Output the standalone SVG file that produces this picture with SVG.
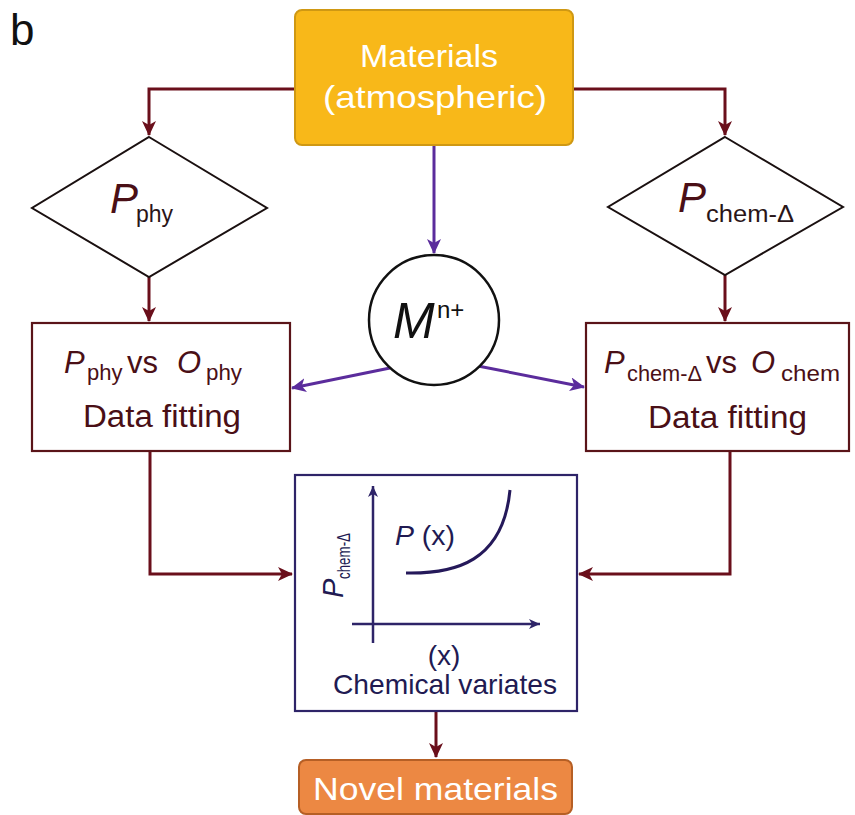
<svg xmlns="http://www.w3.org/2000/svg" width="855" height="815" viewBox="0 0 855 815">
<style>
  text { font-family: "Liberation Sans", Arial, sans-serif; }
  .mr { fill: #4a0f16; }
  .it { font-style: italic; }
  .nv { fill: #211a52; }
  .wt { fill: #ffffff; }
  .con { fill: none; stroke: #6a0f1b; stroke-width: 3; }
  .pur { fill: none; stroke: #5b2c9c; stroke-width: 3; }
  .ax { fill: none; stroke: #2e2468; stroke-width: 2.5; }
</style>
<defs>
  <marker id="ar" markerUnits="userSpaceOnUse" markerWidth="16" markerHeight="14" refX="14" refY="7" orient="auto">
    <path d="M0,0 L15,7 L0,14 L4,7 z" fill="#6a0f1b"/>
  </marker>
  <marker id="ap" markerUnits="userSpaceOnUse" markerWidth="16" markerHeight="14" refX="14" refY="7" orient="auto">
    <path d="M0,0 L15,7 L0,14 L4,7 z" fill="#5b2c9c"/>
  </marker>
  <marker id="an" markerUnits="userSpaceOnUse" markerWidth="12" markerHeight="10" refX="11" refY="5" orient="auto">
    <path d="M0,0 L11,5 L0,10 L3,5 z" fill="#2e2468"/>
  </marker>
</defs>
<rect width="855" height="815" fill="#ffffff"/>
<text x="10" y="45" font-size="44" fill="#111">b</text>

<g id="connectors">
  <path class="con" d="M295,89 H149 V135" marker-end="url(#ar)"/>
  <path class="con" d="M573,89 H725 V135" marker-end="url(#ar)"/>
  <path class="pur" d="M434,145 V253" marker-end="url(#ap)"/>
  <path class="con" d="M149,277 V321" marker-end="url(#ar)"/>
  <path class="con" d="M725,275 V321" marker-end="url(#ar)"/>
  <path class="pur" d="M390,368 L292,388" marker-end="url(#ap)"/>
  <path class="pur" d="M478,366 L584,387" marker-end="url(#ap)"/>
  <path class="con" d="M150,451 V574 H292" marker-end="url(#ar)"/>
  <path class="con" d="M730,451 V574 H579" marker-end="url(#ar)"/>
  <path class="con" d="M436,712 V757" marker-end="url(#ar)"/>
</g>

<g id="materials">
  <rect x="295" y="10" width="278" height="135" rx="7" fill="#f8b819" stroke="#cf9813" stroke-width="2"/>
  <text class="wt" x="360" y="67" font-size="32" textLength="138" lengthAdjust="spacingAndGlyphs">Materials</text>
  <text class="wt" x="323" y="108" font-size="32" textLength="224" lengthAdjust="spacingAndGlyphs">(atmospheric)</text>
</g>

<g id="p-phy">
  <polygon points="149,137 267,208 149,277 32,208" fill="#ffffff" stroke="#1a1010" stroke-width="2"/>
  <text class="mr it" x="110" y="213" font-size="42">P</text>
  <text x="136" y="222" font-size="23" fill="#2a1518">phy</text>
</g>

<g id="p-chem">
  <polygon points="725,137 843,207 725,275 608,207" fill="#ffffff" stroke="#1a1010" stroke-width="2"/>
  <text class="mr it" x="678" y="212" font-size="42">P</text>
  <text x="706" y="222" font-size="23" fill="#2a1518" textLength="88" lengthAdjust="spacingAndGlyphs">chem-Δ</text>
</g>

<g id="m-ion">
  <circle cx="434" cy="320" r="65" fill="#ffffff" stroke="#111" stroke-width="2.5"/>
  <text class="it" x="393" y="338" font-size="50" fill="#111">M</text>
  <text x="437" y="318" font-size="24" fill="#111">n+</text>
</g>

<g id="fit-phy">
  <rect x="32" y="323" width="258" height="128" fill="#ffffff" stroke="#5a1419" stroke-width="2.2"/>
  <text class="mr it" x="64" y="373" font-size="31">P</text>
  <text class="mr" x="87" y="380" font-size="22">phy</text>
  <text class="mr" x="127" y="373" font-size="31">vs</text>
  <text class="mr it" x="177" y="373" font-size="31">O</text>
  <text class="mr" x="206" y="380" font-size="22" textLength="36" lengthAdjust="spacingAndGlyphs">phy</text>
  <text class="mr" x="83" y="427" font-size="31" textLength="158" lengthAdjust="spacingAndGlyphs">Data fitting</text>
</g>

<g id="fit-chem">
  <rect x="586" y="323" width="263" height="128" fill="#ffffff" stroke="#5a1419" stroke-width="2.2"/>
  <text class="mr it" x="604" y="373" font-size="31">P</text>
  <text class="mr" x="627" y="381" font-size="22" textLength="75" lengthAdjust="spacingAndGlyphs">chem-Δ</text>
  <text class="mr" x="706" y="373" font-size="31">vs</text>
  <text class="mr it" x="751" y="373" font-size="31">O</text>
  <text class="mr" x="781" y="381" font-size="22" textLength="59" lengthAdjust="spacingAndGlyphs">chem</text>
  <text class="mr" x="648" y="428" font-size="31" textLength="159" lengthAdjust="spacingAndGlyphs">Data fitting</text>
</g>

<g id="chart">
  <rect x="295" y="475" width="282" height="236" fill="#ffffff" stroke="#2e2468" stroke-width="2.2"/>
  <path class="ax" d="M373,643 V486" marker-end="url(#an)"/>
  <path class="ax" d="M352,624 H540" marker-end="url(#an)"/>
  <path d="M406,573 C455,574 503,562 510,490" fill="none" stroke="#25195a" stroke-width="3"/>
  <text class="nv" x="395" y="545" font-size="27" textLength="60" lengthAdjust="spacingAndGlyphs"><tspan class="it">P</tspan> (x)</text>
  <g transform="translate(343,598) rotate(-90)">
    <text class="nv it" x="0" y="0" font-size="29">P</text>
    <text class="nv" x="19" y="7" font-size="18" textLength="46" lengthAdjust="spacingAndGlyphs">chem-Δ</text>
  </g>
  <text class="nv" x="444" y="665" font-size="28" text-anchor="middle">(x)</text>
  <text class="nv" x="333" y="694" font-size="28" textLength="224" lengthAdjust="spacingAndGlyphs">Chemical variates</text>
</g>

<g id="novel">
  <rect x="299" y="760" width="273" height="54" rx="7" fill="#ec8843" stroke="#b65f25" stroke-width="2"/>
  <text class="wt" x="313" y="800" font-size="32" textLength="245" lengthAdjust="spacingAndGlyphs">Novel materials</text>
</g>
</svg>
